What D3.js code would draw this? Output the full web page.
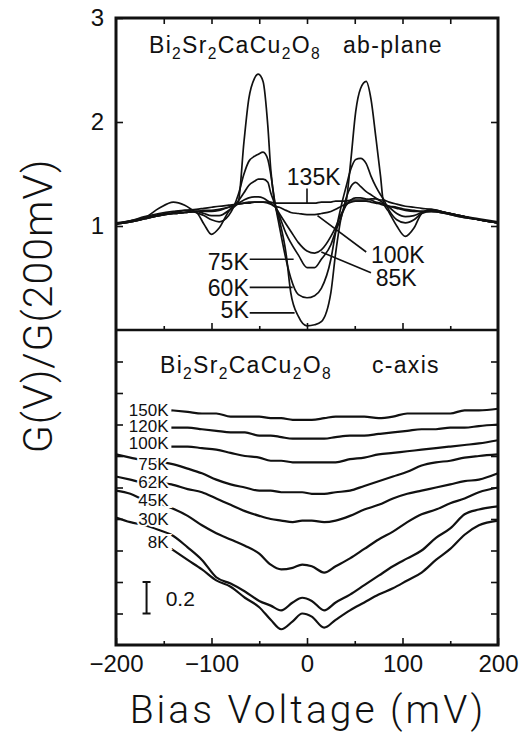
<!DOCTYPE html>
<html>
<head>
<meta charset="utf-8">
<script src="https://cdn.jsdelivr.net/npm/d3@7"></script>
<style>
  body { margin: 0; background: #fff; }
  svg { font-family: "Liberation Sans", Arial, sans-serif; }
  .tick text { fill: #111; }
  .title { font-family: Roboto, "Liberation Sans", sans-serif; font-weight: 300; }
</style>
</head>
<body>
<div id="chart"></div>
<script>
// ---- DATA ----
// ab-plane panel: bias voltage (mV) and normalised conductance G(V)/G(200mV)
const vTop = [-200,-185,-170,-155,-140,-128,-116,-108,-100,-92,-82,-72,-66,-61,-55,-51,-46,-41,-38,-34,-29,-22,-17,-9,0,8,15,25,30,36,41,46,51,56,62,67,72,77,80,86,94,103,112,120,130,145,160,180,200];
const g5K   = [1.02,1.05,1.09,1.12,1.14,1.15,1.13,1.02,0.92,0.98,1.14,1.23,1.81,2.22,2.42,2.46,2.39,1.96,1.55,1.23,1.06,0.74,0.36,0.13,0.04,0.05,0.08,0.36,0.74,1.09,1.23,1.64,2.10,2.32,2.39,2.22,1.86,1.48,1.23,1.13,1.00,0.90,0.98,1.12,1.16,1.13,1.10,1.06,1.03];
const g60K  = [1.02,1.05,1.08,1.17,1.23,1.20,1.13,1.10,1.06,1.04,1.10,1.30,1.50,1.62,1.67,1.69,1.71,1.64,1.50,1.25,1.00,0.68,0.50,0.34,0.31,0.33,0.40,0.68,0.94,1.20,1.38,1.55,1.64,1.65,1.60,1.48,1.38,1.30,1.26,1.15,1.06,1.03,1.06,1.12,1.14,1.13,1.10,1.06,1.03];
const g75K  = [1.02,1.04,1.07,1.10,1.12,1.13,1.14,1.12,1.10,1.10,1.15,1.24,1.32,1.39,1.43,1.45,1.45,1.42,1.32,1.22,1.10,0.93,0.84,0.72,0.60,0.60,0.68,0.82,0.95,1.09,1.27,1.38,1.42,1.38,1.33,1.30,1.27,1.24,1.22,1.18,1.12,1.09,1.10,1.13,1.15,1.13,1.10,1.06,1.03];
const g85K  = [1.02,1.04,1.07,1.10,1.12,1.13,1.14,1.14,1.14,1.15,1.18,1.22,1.25,1.27,1.28,1.28,1.27,1.24,1.22,1.19,1.12,1.02,0.95,0.84,0.76,0.74,0.77,0.90,0.99,1.12,1.20,1.25,1.27,1.27,1.26,1.25,1.23,1.22,1.21,1.19,1.17,1.15,1.14,1.14,1.14,1.12,1.09,1.06,1.03];
const g100K = [1.02,1.04,1.07,1.10,1.12,1.13,1.14,1.15,1.15,1.16,1.18,1.21,1.22,1.23,1.23,1.23,1.23,1.22,1.21,1.19,1.18,1.15,1.13,1.12,1.11,1.11,1.12,1.14,1.16,1.19,1.21,1.23,1.24,1.24,1.24,1.23,1.22,1.21,1.20,1.19,1.18,1.16,1.15,1.14,1.14,1.12,1.09,1.06,1.03];
const g135K = [1.03,1.05,1.08,1.11,1.13,1.15,1.16,1.17,1.18,1.19,1.20,1.21,1.22,1.22,1.23,1.23,1.23,1.23,1.23,1.22,1.22,1.22,1.22,1.22,1.22,1.22,1.23,1.23,1.24,1.24,1.24,1.25,1.25,1.25,1.25,1.26,1.26,1.25,1.25,1.23,1.21,1.19,1.18,1.17,1.16,1.13,1.10,1.07,1.04];

// c-axis panel: curves are offset vertically, scale bar = 0.2
const vLow = [-200,-185,-170,-155,-142,-125,-110,-95,-80,-65,-50,-38,-27,-15,-5,5,18,30,45,60,75,90,105,120,135,150,165,180,200];
const c150K = [null,null,null,null,1.49,1.48,1.47,1.47,1.45,1.45,1.45,1.44,1.44,1.43,1.43,1.43,1.44,1.45,1.45,1.45,1.44,1.45,1.47,1.47,1.47,1.47,1.49,1.49,1.50];
const c120K = [null,null,null,null,1.38,1.38,1.37,1.36,1.35,1.35,1.33,1.33,1.32,1.31,1.31,1.31,1.31,1.32,1.33,1.33,1.34,1.35,1.36,1.37,1.37,1.38,1.38,1.39,1.40];
const c100K = [null,null,null,null,1.26,1.26,1.25,1.24,1.22,1.20,1.19,1.17,1.17,1.16,1.16,1.16,1.16,1.16,1.18,1.19,1.21,1.22,1.23,1.24,1.25,1.26,1.27,1.28,1.30];
const c75K  = [1.21,1.19,1.17,1.16,1.15,1.12,1.09,1.05,1.02,1.00,0.98,0.98,0.97,0.97,0.97,0.96,0.96,0.97,0.98,1.01,1.04,1.07,1.10,1.14,1.16,1.17,1.19,1.20,1.21];
const c62K  = [1.07,1.05,1.03,1.03,1.02,0.99,0.97,0.93,0.89,0.85,0.82,0.80,0.79,0.78,0.79,0.79,0.78,0.79,0.82,0.86,0.89,0.93,0.96,0.98,1.00,1.02,1.04,1.05,1.09];
const c45K  = [0.98,0.96,0.92,0.90,0.87,0.82,0.76,0.71,0.67,0.63,0.58,0.51,0.48,0.49,0.51,0.50,0.46,0.50,0.55,0.61,0.67,0.72,0.78,0.83,0.86,0.90,0.93,0.97,1.00];
const c30K  = [0.81,0.78,0.76,0.73,0.70,0.62,0.54,0.43,0.39,0.34,0.28,0.25,0.22,0.27,0.30,0.28,0.22,0.27,0.32,0.38,0.44,0.50,0.55,0.60,0.68,0.74,0.83,0.86,0.88];
const c8K   = [null,null,null,null,0.61,0.54,0.48,0.41,0.37,0.30,0.24,0.16,0.10,0.15,0.20,0.18,0.11,0.16,0.22,0.27,0.32,0.36,0.41,0.46,0.54,0.61,0.70,0.76,0.79];

const xTicks = [-200, -100, 0, 100, 200];
const xMinorTicks = [-150, -50, 50, 150];
const yTopTicks = [1, 2, 3];
const yLowTicks = [0.2, 0.4, 0.6, 0.8, 1.0, 1.2, 1.4, 1.6, 1.8];

/** CONSTANTS */
const width = 522, height = 738;
const frameL = 116, frameR = 498, frameT = 18, frameM = 330, frameB = 645;

/** SCALES */
const x = d3.scaleLinear().domain([-200, 200]).range([frameL, frameR]);
const yTop = d3.scaleLinear().domain([0, 3]).range([frameM, frameT]);
const yLow = d3.scaleLinear().domain([0, 2]).range([frameB, frameM]);

const svg = d3.select("#chart").append("svg")
  .attr("width", width)
  .attr("height", height);

const lineFor = yScale => d3.line()
  .defined(d => d[1] != null)
  .x(d => x(d[0]))
  .y(d => yScale(d[1]))
  .curve(d3.curveMonotoneX);

// top panel curves
const topSeries = [g135K, g100K, g85K, g75K, g60K, g5K];
svg.append("g")
  .selectAll("path")
  .data(topSeries)
  .join("path")
  .attr("d", s => lineFor(yTop)(vTop.map((v, i) => [v, s[i]])))
  .attr("fill", "none")
  .attr("stroke", "#111")
  .attr("stroke-width", 1.7)
  .attr("stroke-linejoin", "round");

// lower panel curves
const lowSeries = [c150K, c120K, c100K, c75K, c62K, c45K, c30K, c8K];
svg.append("g")
  .selectAll("path")
  .data(lowSeries)
  .join("path")
  .attr("d", s => lineFor(yLow)(vLow.map((v, i) => [v, s[i]])))
  .attr("fill", "none")
  .attr("stroke", "#111")
  .attr("stroke-width", 2.2)
  .attr("stroke-linejoin", "round");

/** AXES */
function styleAxis(g, size) {
  g.select(".domain").remove();
  g.selectAll(".tick line").attr("stroke", "#111").attr("stroke-width", 1.6);
  g.selectAll(".tick text").attr("font-size", size);
}

svg.append("g")
  .attr("transform", `translate(0,${frameB})`)
  .call(d3.axisBottom(x).tickValues(xTicks).tickSizeInner(-7).tickSizeOuter(0).tickPadding(10))
  .call(g => styleAxis(g, 24));
svg.append("g")
  .attr("transform", `translate(0,${frameB})`)
  .call(d3.axisBottom(x).tickValues(xMinorTicks).tickSize(-4).tickFormat(""))
  .call(g => styleAxis(g, 0));
svg.append("g")
  .attr("transform", `translate(0,${frameM})`)
  .call(d3.axisBottom(x).tickValues(xTicks.slice(1, 4)).tickSize(-7).tickFormat(""))
  .call(g => styleAxis(g, 0));
svg.append("g")
  .attr("transform", `translate(0,${frameM})`)
  .call(d3.axisBottom(x).tickValues(xMinorTicks).tickSize(-4).tickFormat(""))
  .call(g => styleAxis(g, 0));
svg.append("g")
  .attr("transform", `translate(0,${frameT})`)
  .call(d3.axisTop(x).tickValues(xTicks.slice(1, 4).concat(xMinorTicks)).tickSize(-6).tickFormat(""))
  .call(g => styleAxis(g, 0));

svg.append("g")
  .attr("transform", `translate(${frameL},0)`)
  .call(d3.axisLeft(yTop).tickValues(yTopTicks).tickSizeInner(-7).tickSizeOuter(0).tickPadding(12).tickFormat(d3.format("d")))
  .call(g => styleAxis(g, 24));
svg.append("g")
  .attr("transform", `translate(${frameR},0)`)
  .call(d3.axisRight(yTop).tickValues(yTopTicks.slice(0, 2)).tickSize(-7).tickFormat(""))
  .call(g => styleAxis(g, 0));
svg.append("g")
  .attr("transform", `translate(${frameL},0)`)
  .call(d3.axisLeft(yLow).tickValues(yLowTicks).tickSize(-7).tickFormat(""))
  .call(g => styleAxis(g, 0));
svg.append("g")
  .attr("transform", `translate(${frameR},0)`)
  .call(d3.axisRight(yLow).tickValues(yLowTicks).tickSize(-7).tickFormat(""))
  .call(g => styleAxis(g, 0));

// frame + panel separator
svg.append("rect")
  .attr("x", frameL).attr("y", frameT)
  .attr("width", frameR - frameL).attr("height", frameB - frameT)
  .attr("fill", "none").attr("stroke", "#111").attr("stroke-width", 3);
svg.append("line")
  .attr("x1", frameL).attr("x2", frameR)
  .attr("y1", frameM).attr("y2", frameM)
  .attr("stroke", "#111").attr("stroke-width", 2.5);

/** TEXT */
function formula(px, py, size) {
  const t = svg.append("text")
    .attr("x", px).attr("y", py)
    .attr("font-size", size)
    .attr("letter-spacing", 1.3)
    .attr("fill", "#111");
  const parts = [["Bi", 0], ["2", 1], ["Sr", 0], ["2", 1], ["CaCu", 0], ["2", 1], ["O", 0], ["8", 1]];
  let sub = false;
  parts.forEach(([s, isSub]) => {
    const ts = t.append("tspan").text(s);
    if (isSub) ts.attr("font-size", size * 0.68);
    if (isSub && !sub) ts.attr("dy", size * 0.28);
    if (!isSub && sub) ts.attr("dy", -size * 0.28);
    sub = !!isSub;
  });
}
formula(149, 53, 23);
svg.append("text").attr("x", 343).attr("y", 53).attr("font-size", 23)
  .attr("letter-spacing", 1.3).attr("fill", "#111").text("ab-plane");
formula(160, 373, 23);
svg.append("text").attr("x", 372).attr("y", 373).attr("font-size", 23)
  .attr("letter-spacing", 1.3).attr("fill", "#111").text("c-axis");

// top-panel temperature labels with leader lines (positions in data units)
const leader = (v1, g1, v2, g2, ys) => svg.append("line")
  .attr("x1", x(v1)).attr("y1", ys(g1)).attr("x2", x(v2)).attr("y2", ys(g2))
  .attr("stroke", "#111").attr("stroke-width", 1.6);
const label = (txt, v, g, ys, anchor, size) => svg.append("text")
  .attr("x", x(v)).attr("y", ys(g))
  .attr("text-anchor", anchor)
  .attr("font-size", size)
  .attr("fill", "#111")
  .text(txt);

label("135K", 7, 1.39, yTop, "middle", 23);
leader(0, 1.36, 0, 1.22, yTop);
label("100K", 67, 0.64, yTop, "start", 23);
leader(62, 0.75, 11, 1.1, yTop);
label("85K", 72, 0.42, yTop, "start", 23);
leader(67, 0.55, 15, 0.75, yTop);
label("75K", -61, 0.58, yTop, "end", 23);
leader(-60, 0.68, -14, 0.68, yTop);
label("60K", -61, 0.33, yTop, "end", 23);
leader(-60, 0.41, -15, 0.41, yTop);
label("5K", -61, 0.115, yTop, "end", 23);
leader(-60, 0.165, -13, 0.165, yTop);

// lower-panel labels, white halo hides the curve behind the text
const lowLabels = ["150K", "120K", "100K", "75K", "62K", "45K", "30K", "8K"];
const lowLabelG = [1.454, 1.352, 1.244, 1.111, 0.997, 0.883, 0.762, 0.616];
svg.append("g")
  .selectAll("text")
  .data(lowLabels)
  .join("text")
  .attr("x", x(-145))
  .attr("y", (d, i) => yLow(lowLabelG[i]))
  .attr("text-anchor", "end")
  .attr("font-size", 17)
  .attr("fill", "#111")
  .attr("stroke", "#fff")
  .attr("stroke-width", 4)
  .attr("paint-order", "stroke")
  .text(d => d);

// scale bar 0.2
const barX = x(-168);
svg.append("path")
  .attr("d", `M${barX - 4},${yLow(0.4)}H${barX + 4}M${barX},${yLow(0.4)}V${yLow(0.2)}M${barX - 4},${yLow(0.2)}H${barX + 4}`)
  .attr("stroke", "#111").attr("stroke-width", 2).attr("fill", "none");
svg.append("text")
  .attr("x", x(-148)).attr("y", yLow(0.25))
  .attr("font-size", 21).attr("fill", "#111")
  .text("0.2");

// axis titles
svg.append("text")
  .attr("class", "title")
  .attr("x", 308).attr("y", 723)
  .attr("text-anchor", "middle")
  .attr("font-size", 39)
  .attr("letter-spacing", 3)
  .attr("fill", "#111")
  .text("Bias Voltage (mV)");
svg.append("text")
  .attr("class", "title")
  .attr("transform", "translate(52,306) rotate(-90)")
  .attr("text-anchor", "middle")
  .attr("font-size", 41)
  .attr("letter-spacing", 1)
  .attr("fill", "#111")
  .text("G(V)/G(200mV)");
</script>
</body>
</html>
